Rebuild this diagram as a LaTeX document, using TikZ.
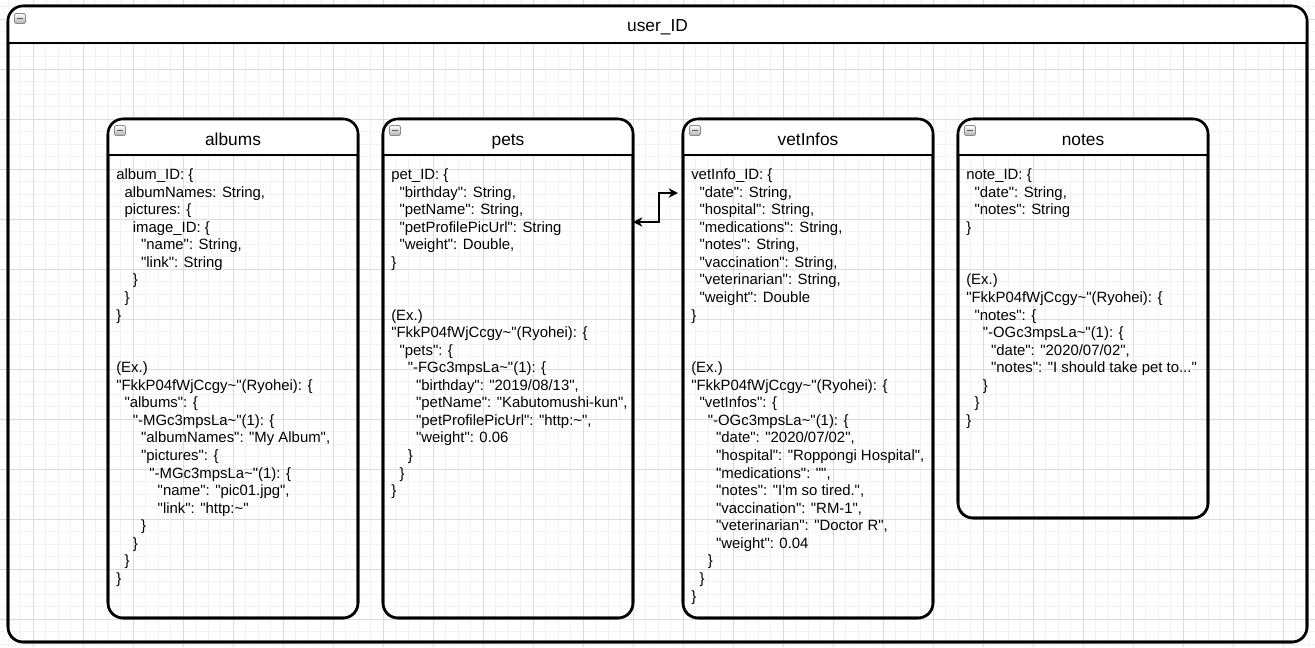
\documentclass[tikz,border=0pt]{standalone}
\usepackage{fontspec}
\setmainfont{Liberation Sans}[Ligatures=TeXOff]
\usetikzlibrary{arrows.meta,calc}
\pgfdeclarelayer{gridlayer}
\pgfdeclarelayer{hdrlayer}
\pgfsetlayers{gridlayer,hdrlayer,main}
\definecolor{gridminor}{HTML}{F2F2F2}
\definecolor{gridmajor}{HTML}{DCDCDC}
\definecolor{iconborder}{HTML}{8A8A8A}
\newlength\indw
\setlength\indw{6.22pt}
\newcommand\jl[2]{\hspace*{#1\indw}\strut#2}
\tikzset{
  container/.style={draw, line width=1.9pt, rounded corners=11.25pt, inner sep=0pt, outer sep=0pt, anchor=north west},
  titletext/.style={font=\fontsize{13pt}{15pt}\selectfont, anchor=base, inner sep=0pt},
  bodytext/.style={font=\fontsize{11.18pt}{13.17pt}\selectfont, align=left, anchor=north west, inner sep=0pt},
  minusicon/.style={draw=iconborder, top color=white, bottom color=black!30, rounded corners=1pt,
    minimum width=8.25pt, minimum height=7.5pt, inner sep=0pt, anchor=north west, line width=0.6pt,
    path picture={\draw[line width=0.9pt, black!65] ([xshift=1.8pt]path picture bounding box.west) -- ([xshift=-1.8pt]path picture bounding box.east);}},
  hdrline/.style={line width=1.5pt},
  linkarrow/.style={line width=1.2pt, {Stealth[length=7pt,width=7pt,inset=2.2pt]}-{Stealth[length=7pt,width=7pt,inset=2.2pt]}},
}
\newcommand\hdrfill[2]{%
  \begin{scope}
    \clip (#1.north west) rectangle ($(#1.north east)+(0,#2)$);
    \fill[white, rounded corners=11.25pt] (#1.north west) rectangle (#1.south east);
  \end{scope}
  \draw[hdrline] ($(#1.north west)+(0,#2)$) -- ($(#1.north east)+(0,#2)$);
}
\begin{document}
\begin{tikzpicture}[x=0.75pt,y=-0.75pt]
\useasboundingbox (0,0) rectangle (1315,647);
\begin{pgfonlayer}{gridlayer}
  \fill[white] (0,0) rectangle (1315,647);
  \foreach \i in {-2,...,102} {\draw[gridminor, line width=0.75pt] ({33.3+12.5*\i},0) -- ({33.3+12.5*\i},647);}
  \foreach \j in {-5,...,46} {\draw[gridminor, line width=0.75pt] (0,{69+12.5*\j}) -- (1315,{69+12.5*\j});}
  \foreach \i in {-1,...,25} {\draw[gridmajor, line width=0.75pt] ({33.3+50*\i},0) -- ({33.3+50*\i},647);}
  \foreach \j in {-1,...,11} {\draw[gridmajor, line width=0.75pt] (0,{69+50*\j}) -- (1315,{69+50*\j});}
\end{pgfonlayer}

% containers
\node[container, minimum width=974.25pt, minimum height=477pt] (user) at (8,6) {};
\node[container, minimum width=187.5pt, minimum height=374.25pt] (albums) at (108,119) {};
\node[container, minimum width=187.5pt, minimum height=374.25pt] (pets) at (383,119) {};
\node[container, minimum width=187.5pt, minimum height=374.25pt] (vet) at (683,119) {};
\node[container, minimum width=187.5pt, minimum height=299.25pt] (notes) at (958,119) {};

\begin{pgfonlayer}{hdrlayer}
\end{pgfonlayer}
\hdrfill{user}{37}
\hdrfill{albums}{36}
\hdrfill{pets}{36}
\hdrfill{vet}{36}
\hdrfill{notes}{36}
\draw[line width=1.9pt, rounded corners=11.25pt] (user.north west) rectangle (user.south east);
\draw[line width=1.9pt, rounded corners=11.25pt] (albums.north west) rectangle (albums.south east);
\draw[line width=1.9pt, rounded corners=11.25pt] (pets.north west) rectangle (pets.south east);
\draw[line width=1.9pt, rounded corners=11.25pt] (vet.north west) rectangle (vet.south east);
\draw[line width=1.9pt, rounded corners=11.25pt] (notes.north west) rectangle (notes.south east);

% icons
\node[minusicon] (userMin) at (14,13) {};
\node[minusicon] (albumsMin) at (114,125) {};
\node[minusicon] (petsMin) at (389,125) {};
\node[minusicon] (vetMin) at (689,125) {};
\node[minusicon] (notesMin) at (964,125) {};

% titles
\node[titletext] (userT) at (657.5,31) {user\_ID};
\node[titletext] (albumsT) at (233,145.5) {albums};
\node[titletext] (petsT) at (508,145.5) {pets};
\node[titletext] (vetT) at (808,145.5) {vetInfos};
\node[titletext] (notesT) at (1083,145.5) {notes};

% bodies
\node[bodytext] (albumsB) at (116,167) {%
\jl0{album\_ID: \{}\\
\jl1{albumNames: String,}\\
\jl1{pictures: \{}\\
\jl2{image\_ID: \{}\\
\jl3{"name": String,}\\
\jl3{"link": String}\\
\jl2{\}}\\
\jl1{\}}\\
\jl0{\}}\\
\jl0{}\\
\jl0{}\\
\jl0{(Ex.)}\\
\jl0{"FkkP04fWjCcgy\textasciitilde"(Ryohei): \{}\\
\jl1{"albums": \{}\\
\jl2{"-MGc3mpsLa\textasciitilde"(1): \{}\\
\jl3{"albumNames": "My Album",}\\
\jl3{"pictures": \{}\\
\jl4{"-MGc3mpsLa\textasciitilde"(1): \{}\\
\jl5{"name": "pic01.jpg",}\\
\jl5{"link": "http:\textasciitilde"}\\
\jl3{\}}\\
\jl2{\}}\\
\jl1{\}}\\
\jl0{\}}};

\node[bodytext] (petsB) at (391,167) {%
\jl0{pet\_ID: \{}\\
\jl1{"birthday": String,}\\
\jl1{"petName": String,}\\
\jl1{"petProfilePicUrl": String}\\
\jl1{"weight": Double,}\\
\jl0{\}}\\
\jl0{}\\
\jl0{}\\
\jl0{(Ex.)}\\
\jl0{"FkkP04fWjCcgy\textasciitilde"(Ryohei): \{}\\
\jl1{"pets": \{}\\
\jl2{"-FGc3mpsLa\textasciitilde"(1): \{}\\
\jl3{"birthday": "2019/08/13",}\\
\jl3{"petName": "Kabutomushi-kun",}\\
\jl3{"petProfilePicUrl": "http:\textasciitilde",}\\
\jl3{"weight": 0.06}\\
\jl2{\}}\\
\jl1{\}}\\
\jl0{\}}};

\node[bodytext] (vetB) at (691,167) {%
\jl0{vetInfo\_ID: \{}\\
\jl1{"date": String,}\\
\jl1{"hospital": String,}\\
\jl1{"medications": String,}\\
\jl1{"notes": String,}\\
\jl1{"vaccination": String,}\\
\jl1{"veterinarian": String,}\\
\jl1{"weight": Double}\\
\jl0{\}}\\
\jl0{}\\
\jl0{}\\
\jl0{(Ex.)}\\
\jl0{"FkkP04fWjCcgy\textasciitilde"(Ryohei): \{}\\
\jl1{"vetInfos": \{}\\
\jl2{"-OGc3mpsLa\textasciitilde"(1): \{}\\
\jl3{"date": "2020/07/02",}\\
\jl3{"hospital": "Roppongi Hospital",}\\
\jl3{"medications": "",}\\
\jl3{"notes": "I'm so tired.",}\\
\jl3{"vaccination": "RM-1",}\\
\jl3{"veterinarian": "Doctor R",}\\
\jl3{"weight": 0.04}\\
\jl2{\}}\\
\jl1{\}}\\
\jl0{\}}};

\node[bodytext] (notesB) at (966,167) {%
\jl0{note\_ID: \{}\\
\jl1{"date": String,}\\
\jl1{"notes": String}\\
\jl0{\}}\\
\jl0{}\\
\jl0{}\\
\jl0{(Ex.)}\\
\jl0{"FkkP04fWjCcgy\textasciitilde"(Ryohei): \{}\\
\jl1{"notes": \{}\\
\jl2{"-OGc3mpsLa\textasciitilde"(1): \{}\\
\jl3{"date": "2020/07/02",}\\
\jl3{"notes": "I should take pet to..."}\\
\jl2{\}}\\
\jl1{\}}\\
\jl0{\}}};

% connector
\draw[linkarrow] ($(pets.north east)+(0,103)$) -- ++(26,0) |- ($(vet.north west)+(-5,74)$);
\end{tikzpicture}
\end{document}
